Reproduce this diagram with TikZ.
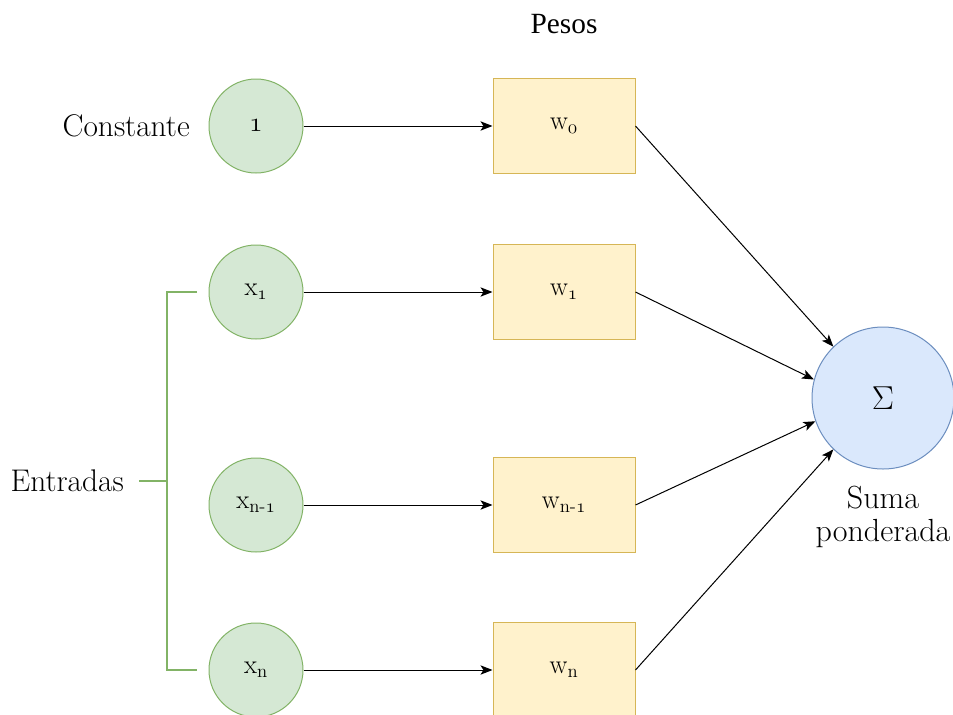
\documentclass[tikz,border=0pt]{standalone}
\usepackage{fontspec}
\newfontfamily\timesfont{Liberation Serif}
\usetikzlibrary{arrows.meta}
\definecolor{inFill}{HTML}{D5E8D4}
\definecolor{inLine}{HTML}{82B366}
\definecolor{wFill}{HTML}{FFF2CC}
\definecolor{wLine}{HTML}{D6B656}
\definecolor{sFill}{HTML}{DAE8FC}
\definecolor{sLine}{HTML}{6C8EBF}
% old-style digits taken from the math italic font
\newcommand{\osn}[1]{{\fontencoding{OML}\fontfamily{cmm}\fontseries{m}\fontshape{it}\selectfont #1}}
\tikzset{
  inputnode/.style={circle, draw=inLine, fill=inFill, line width=0.75pt,
    minimum size=70.5pt, inner sep=0pt, font=\fontsize{20}{24}\selectfont},
  weightnode/.style={rectangle, draw=wLine, fill=wFill, line width=0.75pt,
    minimum width=106.5pt, minimum height=71.25pt, inner sep=0pt,
    font=\fontsize{20}{24}\selectfont},
  sumnode/.style={circle, draw=sLine, fill=sFill, line width=0.75pt,
    minimum size=106.5pt, inner sep=0pt, font=\fontsize{28}{32}\selectfont},
  label/.style={inner sep=0pt, font=\fontsize{23.5}{28}\selectfont},
  link/.style={draw=black, line width=0.75pt,
    -{Stealth[length=9pt, width=7pt, inset=2.2pt]}},
  bracket/.style={draw=inLine, line width=1.5pt}
}
\begin{document}
\begin{tikzpicture}[x=0.75pt, y=-0.75pt]
  \useasboundingbox (0,0) rectangle (953,714);

  % inputs
  \node[inputnode] (c0) at (256,126) {\osn{1}};
  \node[inputnode] (x1) at (256,292) {x\textsubscript{\osn{1}}};
  \node[inputnode] (xm) at (256,505) {x\textsubscript{n-\osn{1}}};
  \node[inputnode] (xn) at (256,670) {x\textsubscript{n}};

  % weights
  \node[weightnode] (w0) at (564,126) {w\textsubscript{\osn{0}}};
  \node[weightnode] (w1) at (564,292) {w\textsubscript{\osn{1}}};
  \node[weightnode] (wm) at (564,505) {w\textsubscript{n-\osn{1}}};
  \node[weightnode] (wn) at (564,670) {w\textsubscript{n}};

  % weighted sum
  \node[sumnode] (sum) at (883,398) {$\Sigma$};

  % labels
  \node[label, anchor=east] (lconst) at (190,126) {Constante};
  \node[label, anchor=east] (lin) at (124,481) {Entradas};
  \node[inner sep=0pt, font=\timesfont\fontsize{22}{26}\selectfont] (lw) at (564,24) {Pesos};
  \node[label, align=center, font=\fontsize{24}{24.75}\selectfont] (lsum) at (883,517) {Suma\\ponderada};

  % connectors
  \foreach \a/\b in {c0/w0, x1/w1, xm/wm, xn/wn} {
    \draw[link] (\a) -- (\b);
  }
  \foreach \a/\ang in {w0/134, w1/165, wm/199, wn/226} {
    \draw[link] (\a.east) -- (sum.\ang);
  }

  % bracket grouping the inputs
  \coordinate (bt) at (197,292);
  \coordinate (bb) at (197,670);
  \coordinate (bm) at (139,481);
  \draw[bracket] (bt) -- (167,292) -- (167,670) -- (bb);
  \draw[bracket] (bm) -- (167,481);
\end{tikzpicture}
\end{document}
